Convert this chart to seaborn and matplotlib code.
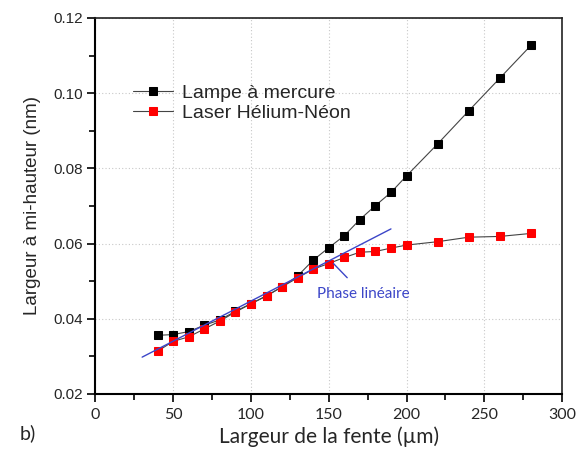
import matplotlib
matplotlib.use("Agg")
import matplotlib.pyplot as plt
import seaborn as sns
import pandas as pd
from matplotlib.ticker import MultipleLocator

# ---- data ----
slit_um = [40, 50, 60, 70, 80, 90, 100, 110, 120, 130, 140, 150, 160, 170, 180, 190, 200, 220, 240, 260, 280]
mercury = [0.0356, 0.0358, 0.0366, 0.0383, 0.0397, 0.0420, 0.0440, 0.0461, 0.0485, 0.0514, 0.0556, 0.0589,
           0.0621, 0.0664, 0.0701, 0.0736, 0.0780, 0.0865, 0.0953, 0.1040, 0.1127]
laser = [0.0314, 0.0340, 0.0352, 0.0373, 0.0394, 0.0418, 0.0440, 0.0461, 0.0485, 0.0509, 0.0532, 0.0547,
         0.0563, 0.0577, 0.0579, 0.0588, 0.0596, 0.0605, 0.0617, 0.0619, 0.0627]
fit_x = [30, 190]
fit_y = [0.0298, 0.0639]

series_labels = ["Lampe à mercure", "Laser Hélium-Néon"]
x_label = "Largeur de la fente (µm)"
y_label = "Largeur à mi-hauteur (nm)"
annot_text = "Phase linéaire"
panel_text = "b)"

df = pd.DataFrame({"x": slit_um, "mercure": mercury, "laser": laser})
fit_df = pd.DataFrame({"x": fit_x, "y": fit_y})

sns.set_theme(style="white")
plt.rcParams["font.family"] = ["Liberation Sans", "DejaVu Sans"]

fig = plt.figure(figsize=(5.83, 4.54), dpi=100)
ax = fig.add_axes([0.1638, 0.1322, 0.964 - 0.1638, 0.9604 - 0.1322])

blue = "#3c46c8"
sns.lineplot(data=fit_df, x="x", y="y", ax=ax, color=blue, lw=1.0, zorder=4)

sns.lineplot(data=df, x="x", y="mercure", ax=ax, color="#444444", lw=0.8,
             marker="s", markersize=6.2, markerfacecolor="black", markeredgecolor="black",
             label=series_labels[0], zorder=3)
sns.lineplot(data=df, x="x", y="laser", ax=ax, color="#444444", lw=0.8,
             marker="s", markersize=6.2, markerfacecolor="#ff0000", markeredgecolor="#ff0000",
             label=series_labels[1], zorder=3)

ax.set_xlim(0, 300)
ax.set_ylim(0.02, 0.12)
ax.xaxis.set_major_locator(MultipleLocator(50))
ax.xaxis.set_minor_locator(MultipleLocator(25))
ax.yaxis.set_major_locator(MultipleLocator(0.02))
ax.yaxis.set_minor_locator(MultipleLocator(0.01))
ax.set_yticks([0.02, 0.04, 0.06, 0.08, 0.10, 0.12])
ax.set_yticklabels(["0.02", "0.04", "0.06", "0.08", "0.10", "0.12"])

ax.grid(True, which="major", color="#c8c8c8", linestyle=(0, (1, 2)), lw=0.8)
ax.set_axisbelow(True)

for s in ["left", "bottom"]:
    ax.spines[s].set_linewidth(1.5)
    ax.spines[s].set_color("black")
for s in ["right", "top"]:
    ax.spines[s].set_linewidth(1.2)
    ax.spines[s].set_color("#222222")

ax.tick_params(which="major", direction="out", length=6, width=1.2, color="black",
               bottom=True, left=True, top=False, right=False)
ax.tick_params(which="minor", direction="out", length=4, width=1.2, color="black",
               bottom=True, left=True, top=False, right=False)
for lab in ax.get_yticklabels():
    lab.set_fontfamily("Liberation Sans")
    lab.set_fontsize(11)
for lab in ax.get_xticklabels():
    lab.set_fontfamily("Lato")
    lab.set_fontsize(11.5)
ax.tick_params(axis="x", pad=4)
ax.tick_params(axis="y", pad=3)

ax.set_xlabel(x_label, fontsize=15, family="Lato", labelpad=3)
ax.set_ylabel(y_label, fontsize=13.5, family="Liberation Sans", labelpad=9)

leg = ax.legend(loc="upper left", bbox_to_anchor=(0.064, 0.845), frameon=False, fontsize=14,
                handlelength=2.05, handletextpad=0.45, labelspacing=0.12, borderaxespad=0)

ax.annotate(annot_text, xy=(153, 0.0547), xytext=(172, 0.0466), color=blue, fontsize=11,
            family="Lato", ha="center", va="center",
            arrowprops=dict(arrowstyle="-", color=blue, lw=1.0, shrinkA=6, shrinkB=0))

fig.text(20 / 583, 1 - 433 / 454, panel_text, fontsize=14, family="Lato", ha="left", va="center")

fig.savefig("out.png", dpi=100)
